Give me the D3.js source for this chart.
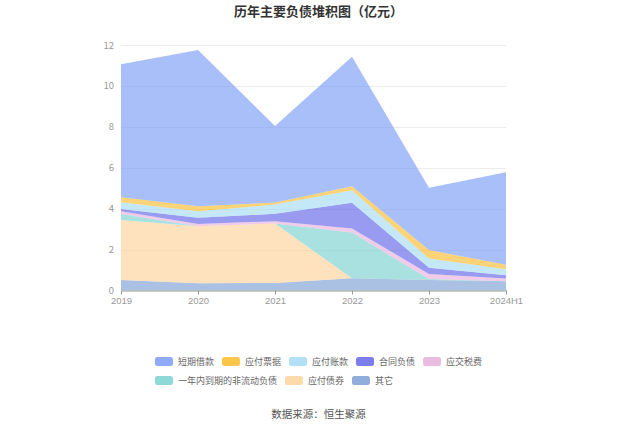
<!DOCTYPE html>
<html><head><meta charset="utf-8">
<script src="https://cdn.jsdelivr.net/npm/d3@7/dist/d3.min.js"></script>
<style>body{margin:0;background:#fff;}svg{display:block;font-family:"Noto Sans CJK SC","Noto Sans",sans-serif;}</style>
</head><body><svg id="c" width="637" height="431"></svg>
<script>
const years = ["2019","2020","2021","2022","2023","2024H1"];
const seriesNames = ["短期借款","应付票据","应付账款","合同负债","应交税费","一年内到期的非流动负债","应付债券","其它"];
const 其它 = [0.51,0.35,0.37,0.60,0.51,0.45];
const 应付债券 = [2.94,2.79,2.90,0,0,0];
const 一年内到期的非流动负债 = [0.29,0,0,2.23,0.05,0];
const 应交税费 = [0.13,0.11,0.12,0.20,0.25,0.14];
const 合同负债 = [0.11,0.30,0.36,1.26,0.30,0.16];
const 应付账款 = [0.33,0.32,0.45,0.61,0.45,0.29];
const 应付票据 = [0.25,0.25,0.10,0.19,0.42,0.22];
const 短期借款 = [6.50,7.63,3.74,6.34,3.04,4.52];
const yTicks = [0,2,4,6,8,10,12];
const colors = ["#7b9cf6","#fbbc2c","#a5dcf5","#6366e8","#e8b0dc","#7ad1d0","#fdd39a","#7c9fd6"];

const valuesByName = {"短期借款":短期借款,"应付票据":应付票据,"应付账款":应付账款,"合同负债":合同负债,"应交税费":应交税费,"一年内到期的非流动负债":一年内到期的非流动负债,"应付债券":应付债券,"其它":其它};
const stackOrder = ["其它","应付债券","一年内到期的非流动负债","应交税费","合同负债","应付账款","应付票据","短期借款"];
const table = years.map((y,i)=>{const o={year:y};seriesNames.forEach(n=>o[n]=valuesByName[n][i]);return o;});

const svg = d3.select("#c");
const x = d3.scalePoint().domain(years).range([121,506]);
const y = d3.scaleLinear().domain([0,12]).range([290.5,45]);

// grid
svg.append("g").selectAll("line").data(yTicks.filter(d=>d>0)).join("line")
  .attr("x1",121).attr("x2",506).attr("y1",d=>Math.round(y(d))+0.5).attr("y2",d=>Math.round(y(d))+0.5)
  .attr("stroke","#ececec").attr("stroke-width",1);

const stack = d3.stack().keys(stackOrder);
const layers = stack(table);
const area = d3.area().x(d=>x(d.data.year)).y0(d=>y(d[0])).y1(d=>y(d[1]));
svg.append("g").selectAll("path").data(layers).join("path")
  .attr("d",area)
  .attr("fill",d=>colors[seriesNames.indexOf(d.key)])
  .attr("fill-opacity",0.65);

// y labels
svg.append("g").selectAll("text").data(yTicks).join("text")
  .attr("x",114).attr("y",d=>y(d)+3.5).attr("text-anchor","end")
  .attr("font-size",9.5).attr("fill","#999").text(d=>d);

// x axis
const xa = svg.append("g").attr("transform","translate(0,290.5)")
  .call(d3.axisBottom(x).tickSize(4).tickSizeOuter(0).tickPadding(3));
xa.select(".domain").attr("stroke","#999");
xa.selectAll(".tick line").attr("stroke","#999");
xa.selectAll("text").attr("fill","#999").attr("font-size",9.5).attr("font-family","inherit");

// title
svg.append("text").attr("x",318.5).attr("y",16).attr("text-anchor","middle")
  .attr("font-size",13).attr("font-weight","bold").attr("fill","#333").text("历年主要负债堆积图（亿元）");

// legend
const lg = svg.append("g");
const items = [];
const maxW = 330; let cx=0, row=0; const gap=8, sw=18, sh=9;
seriesNames.forEach((n,i)=>{
  const t = lg.append("text").attr("font-size",9).attr("fill","#666").text(n);
  const tw = t.node().getComputedTextLength();
  const w = sw+5+tw;
  if (cx>0 && cx+w>maxW){row++;cx=0;}
  items.push({n,i,t,x:cx,row,w});
  cx += w+gap;
});
const rowW = d3.max(d3.range(row+1).map(r=>{const its=items.filter(d=>d.row===r);const l=its[its.length-1];return l.x+l.w;}));
const ox = 318.5 - rowW/2;
items.forEach(d=>{
  const yy = 357 + d.row*19;
  lg.append("rect").attr("x",ox+d.x).attr("y",yy).attr("width",sw).attr("height",sh).attr("rx",2.5)
    .attr("fill",colors[d.i]).attr("fill-opacity",0.85);
  d.t.attr("x",ox+d.x+sw+5).attr("y",yy+8);
});

svg.append("text").attr("x",318.5).attr("y",418).attr("text-anchor","middle")
  .attr("font-size",10.5).attr("fill","#555").text("数据来源：恒生聚源");
</script></body></html>
